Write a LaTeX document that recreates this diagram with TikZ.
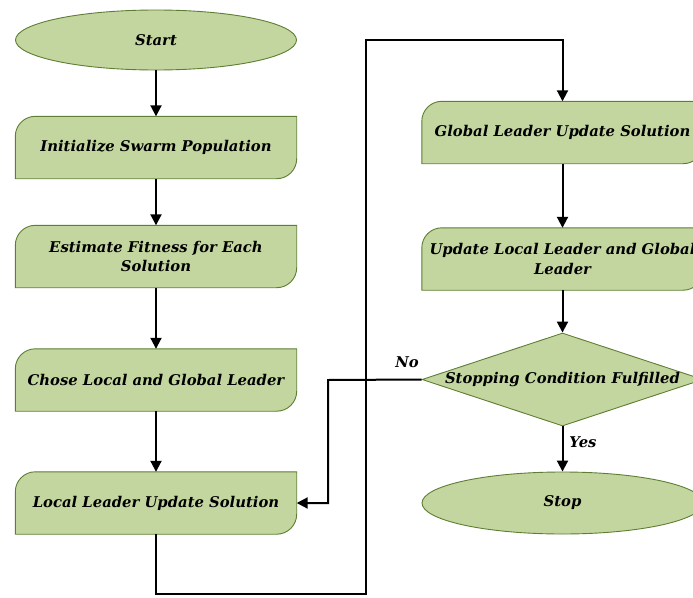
\documentclass[tikz,border=0pt]{standalone}
\usepackage{fontspec}
\setmainfont{DejaVu Serif}
\usetikzlibrary{shapes.geometric,arrows.meta,backgrounds}
\definecolor{leaffill}{HTML}{C4D6A0}
\definecolor{leafline}{HTML}{5E7E32}
\newcommand\leafshape[1]{%
  \filldraw[leaf] (#1.south west) -- ([yshift=-20pt]#1.north west)
    arc[start angle=180,end angle=90,radius=20pt] -- (#1.north east)
    -- ([yshift=20pt]#1.south east)
    arc[start angle=0,end angle=-90,radius=20pt] -- cycle;}
\tikzset{
  leaf/.style={fill=leaffill,draw=leafline,line width=0.9pt},
  txt/.style={font=\fontsize{14.8}{19.5}\selectfont\bfseries\itshape},
  procbox/.style={txt,minimum width=281pt,minimum height=62pt,inner sep=0pt,align=center},
  term/.style={txt,ellipse,leaf,minimum width=281pt,minimum height=60pt,inner sep=0pt},
  decision/.style={txt,diamond,leaf,minimum width=281pt,minimum height=93pt,inner sep=0pt},
  arr/.style={line width=2pt,-{Triangle[length=11pt,width=11pt]}},
  lbl/.style={txt}
}
\begin{document}
\begin{tikzpicture}[x=1pt,y=1pt]
\path[use as bounding box,clip] (0,0) rectangle (693,-597);
\node[term] (start) at (156,-40) {\makebox[0pt]{Start}};
\node[procbox] (b1) at (156,-147.5) {Initialize Swarm Population};
\node[procbox] (b2) at (156,-256.5) {Estimate Fitness for Each\\Solution};
\node[procbox] (b3) at (156,-380) {Chose Local and Global Leader};
\node[procbox] (b4) at (156,-503) {Local Leader Update Solution};
\node[procbox] (b5) at (562.5,-132.5) {Global Leader Update Solution};
\node[procbox] (b6) at (562.5,-259) {Update Local Leader and Global\\Leader};
\node[decision] (dec) at (562.5,-379.5) {\makebox[0pt]{Stopping Condition Fulfilled}};
\node[term,minimum height=62pt] (stop) at (562.5,-503) {\makebox[0pt]{Stop}};
\node[lbl] (no) at (407,-362) {No};
\node[lbl] (yes) at (583,-442) {Yes};
\coordinate (c1) at (366,-594);
\coordinate (c2) at (366,-40);
\coordinate (cn) at (328,-380);
\begin{pgfonlayer}{background}
\clip (0,0) rectangle (693,-597);
\leafshape{b1}\leafshape{b2}\leafshape{b3}\leafshape{b4}\leafshape{b5}\leafshape{b6}
\end{pgfonlayer}
\draw[arr] (start) -- (b1);
\draw[arr] (b1) -- (b2);
\draw[arr] (b2) -- (b3);
\draw[arr] (b3) -- (b4);
\draw[arr] (b4.south) |- (c1) -- (c2) -| (b5.north);
\draw[arr] (b5) -- (b6);
\draw[arr] (b6) -- (dec);
\draw[arr] (dec) -- (stop);
\draw[arr] (dec.west) -- (cn) |- (b4.east);
\end{tikzpicture}
\end{document}
